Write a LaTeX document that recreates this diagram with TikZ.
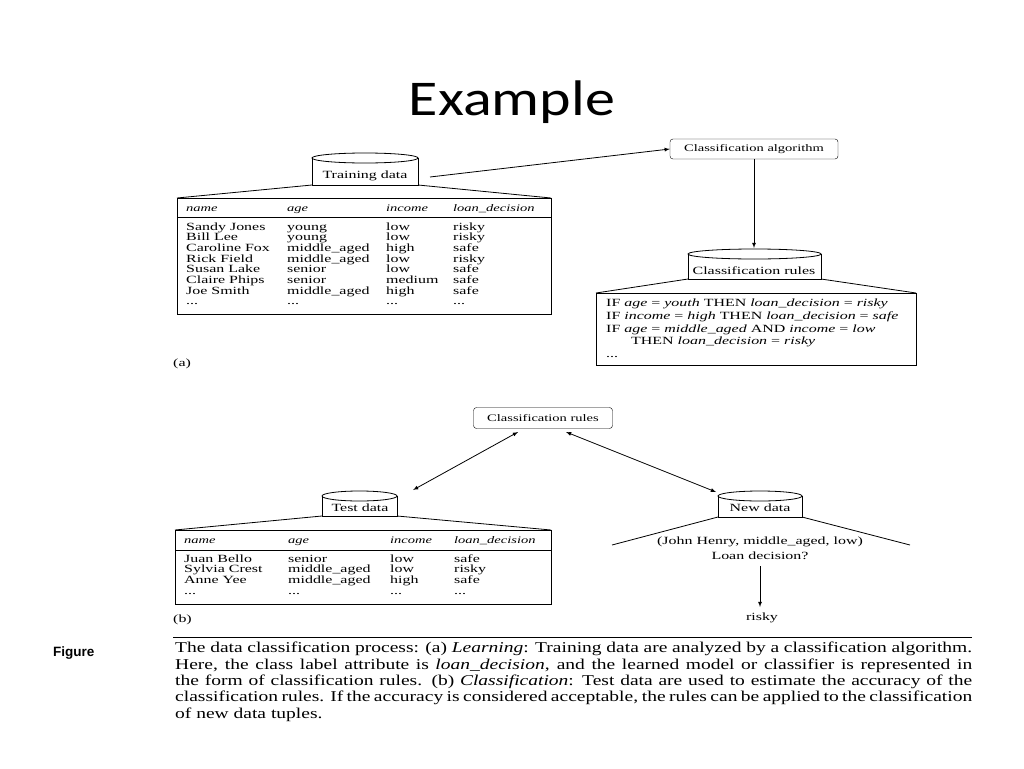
\documentclass[tikz,border=0pt]{standalone}
\usepackage{fontspec}
\setmainfont{Liberation Serif}
\newfontfamily\dfont[FakeStretch=1.45]{Liberation Serif}
\newfontfamily\cfont[FakeStretch=1.3]{Liberation Serif}
\newfontfamily\tfont[FakeStretch=1.2]{Carlito}
\newfontfamily\hfont{Liberation Sans}
\newcommand{\ddd}{.\kern0pt.\kern0pt.}
\begin{document}
\begin{tikzpicture}[x=1pt,y=-1pt,
  t/.style={font=\dfont\fontsize{11}{12}\selectfont,anchor=base west,inner sep=0},
  tc/.style={font=\dfont\fontsize{11}{12}\selectfont,anchor=base,inner sep=0},
  rbox/.style={draw,rounded corners=3pt,minimum width=#1,minimum height=20pt,font=\dfont\fontsize{10}{12}\selectfont,inner sep=0},
  arr/.style={-latex,thick},
  darr/.style={latex-latex,thick}]
\useasboundingbox (0,0) rectangle (1024,768);
\node[font=\tfont\fontsize{50}{54}\selectfont,anchor=base] (title) at (512,115) {Example};
\newcommand{\cyl}[5]{% x1 x2 ytop ybottom name
  \draw[thick] (#1,#3) -- (#1,#4) -- (#2,#4) -- (#2,#3);
  \draw[thick] ({(#1+#2)/2},#3) ellipse ({(#2-#1)/2} and 5);
  \coordinate (#5) at ({(#1+#2)/2},{(#3+#4)/2+3});}
% ---- (a)
\cyl{312}{418}{158}{185}{tdc}
\node[tc] (td) at (365,178) {Training data};
\draw[thick] (312,185) -- (177,198) (418,185) -- (551,198);
\draw[thick] (177,198) rectangle (551,314);
\draw (177,217) -- (551,217);
\foreach \x/\s in {186/name,287/age,386/income,453/loan\_decision}
  \node[t,font=\dfont\itshape\fontsize{10}{12}\selectfont] at (\x,211) {\s};
\foreach \y/\a/\b/\c/\d in {230/Sandy Jones/young/low/risky,240.7/Bill Lee/young/low/risky,251.4/Caroline Fox/middle\_aged/high/safe,262.1/Rick Field/middle\_aged/low/risky,272.8/Susan Lake/senior/low/safe,283.5/Claire Phips/senior/medium/safe,294.2/Joe Smith/middle\_aged/high/safe,304/\ddd/\ddd/\ddd/\ddd}{
  \node[t] at (186,\y) {\a};\node[t] at (287,\y) {\b};\node[t] at (386,\y) {\c};\node[t] at (453,\y) {\d};}
\node[t] (la) at (173,366) {(a)};
\node[rbox=168pt] (ca) at (754,149) {Classification algorithm};
\draw[arr] (430,177) -- (ca.west);
\cyl{688}{821}{254}{279}{crc}
\node[tc] (cr) at (754,274) {Classification rules};
\draw[arr] (ca.south) -- (754,248);
\draw[thick] (688,279) -- (596,293) (821,279) -- (916,293);
\draw[thick] (596,293) rectangle (916,365);
\node[t] (r1) at (606,306) {IF \textit{age} = \textit{youth} THEN \textit{loan\_decision} = \textit{risky}};
\node[t] (r2) at (606,319) {IF \textit{income} = \textit{high} THEN \textit{loan\_decision} = \textit{safe}};
\node[t] (r3) at (606,332) {IF \textit{age} = \textit{middle\_aged} AND \textit{income} = \textit{low}};
\node[t] (r4) at (631,344) {THEN \textit{loan\_decision} = \textit{risky}};
\node[t] (r5) at (606,357) {\ddd};
% ---- (b)
\node[rbox=139pt,minimum height=21pt] (cb) at (543,418) {Classification rules};
\cyl{322}{397}{496}{516}{tec}
\node[tc] (te) at (360,511) {Test data};
\draw[thick] (322,516) -- (175,530) (397,516) -- (551,530);
\draw[thick] (175,530) rectangle (551,604);
\draw (175,550) -- (551,550);
\foreach \x/\s in {184/name,288/age,390/income,454/loan\_decision}
  \node[t,font=\dfont\itshape\fontsize{10}{12}\selectfont] at (\x,543) {\s};
\foreach \y/\a/\b/\c/\d in {562/Juan Bello/senior/low/safe,572.7/Sylvia Crest/middle\_aged/low/risky,583.4/Anne Yee/middle\_aged/high/safe,594/\ddd/\ddd/\ddd/\ddd}{
  \node[t] at (184,\y) {\a};\node[t] at (288,\y) {\b};\node[t] at (390,\y) {\c};\node[t] at (454,\y) {\d};}
\node[t] (lb) at (173,622) {(b)};
\cyl{718}{802}{496}{517}{ndc}
\node[tc] (nd) at (760,511) {New data};
\draw[thick] (718,517) -- (612,545) (802,517) -- (910,545);
\node[tc] (jh) at (760,544) {(John Henry, middle\_aged, low)};
\node[tc] (ld) at (760,559) {Loan decision?};
\node[tc] (rk) at (762,620) {risky};
\draw[darr] (413,490) -- (518,432);
\draw[darr] (566,432) -- (716,492);
\draw[arr] (760,566) -- (760,607);
% ---- caption
\draw (173,637) -- (972,637);
\node[font=\hfont\bfseries\fontsize{13.5}{15}\selectfont,anchor=base west,inner sep=0] (fig) at (53,656) {Figure};
\node[anchor=north west,inner sep=0,text width=797pt,align=justify,
  font=\cfont\fontsize{15}{16.4}\selectfont] (cap) at (175,642)
{The data classification process: (a) \textit{Learning}: Training data are analyzed by a classification algorithm. Here, the class label attribute is \textit{loan\_decision}, and the learned model or classifier is represented in the form of classification rules. (b) \textit{Classification}: Test data are used to estimate the accuracy of the classification rules. If the accuracy is considered acceptable, the rules can be applied to the classification of new data tuples.};
\end{tikzpicture}
\end{document}
